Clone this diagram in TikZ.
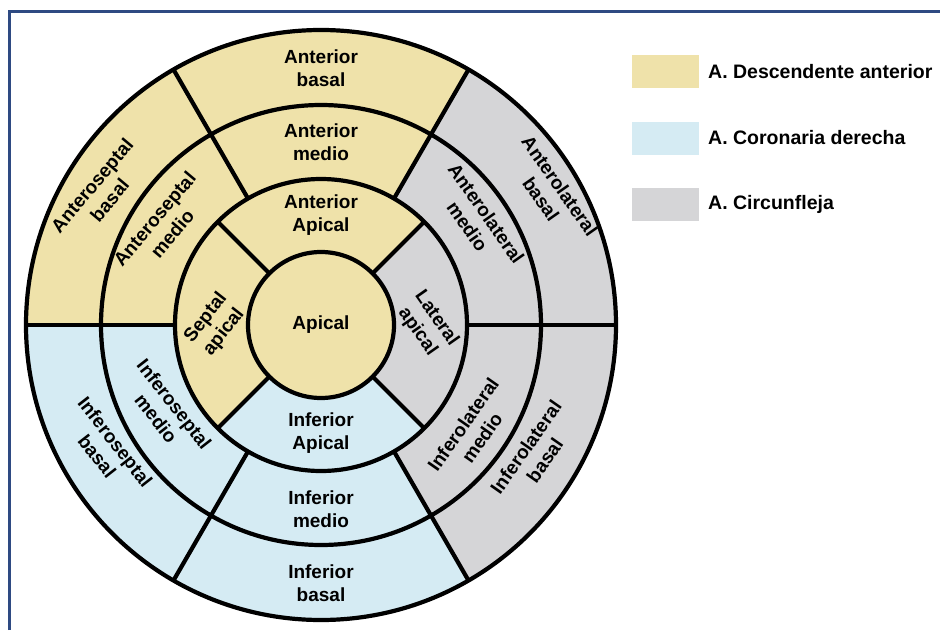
\documentclass[tikz,border=0pt]{standalone}
\usepackage{fontspec}
\setmainfont{Liberation Sans}
\definecolor{ladyellow}{HTML}{EFE2AA}
\definecolor{rcablue}{HTML}{D5EBF3}
\definecolor{cxgray}{HTML}{D5D5D7}
\definecolor{frameblue}{HTML}{2E4A82}
% annular sector: colour, start angle, end angle, inner radius, outer radius
\newcommand\ringpart[5]{%
  \fill[#1] (#2:#4) arc[start angle=#2,end angle=#3,radius=#4]
    -- (#3:#5) arc[start angle=#3,end angle=#2,radius=#5] -- cycle;}
\begin{document}
\begin{tikzpicture}[x=1pt,y=1pt,
  lbl/.style={font=\bfseries\fontsize{19}{23}\selectfont,align=center,inner sep=0pt,text=black},
  legtext/.style={font=\bfseries\fontsize{19.5}{23}\selectfont,anchor=west,inner sep=0pt,text=black},
  legbox/.style={minimum width=67pt,minimum height=33pt,inner sep=0pt,draw=none},
  wall/.style={line width=4.2pt,black}]
\useasboundingbox (-321,-305) rectangle (619,325);
\fill[white] (-321,-305) rectangle (619,325);

% frame
\draw[frameblue,line width=3pt] (-311,-305) -- (-311,314) -- (619,314);

% basal ring
\ringpart{cxgray}{0}{60}{220}{295}
\ringpart{ladyellow}{60}{120}{220}{295}
\ringpart{ladyellow}{120}{180}{220}{295}
\ringpart{rcablue}{180}{240}{220}{295}
\ringpart{rcablue}{240}{300}{220}{295}
\ringpart{cxgray}{300}{360}{220}{295}
% mid ring
\ringpart{cxgray}{0}{60}{146}{220}
\ringpart{ladyellow}{60}{120}{146}{220}
\ringpart{ladyellow}{120}{180}{146}{220}
\ringpart{rcablue}{180}{240}{146}{220}
\ringpart{rcablue}{240}{300}{146}{220}
\ringpart{cxgray}{300}{360}{146}{220}
% apical ring
\ringpart{ladyellow}{45}{135}{73}{146}
\ringpart{ladyellow}{135}{225}{73}{146}
\ringpart{rcablue}{225}{315}{73}{146}
\ringpart{cxgray}{-45}{45}{73}{146}
% apex
\fill[ladyellow] (0,0) circle[radius=73];

% segment walls
\foreach \r in {73,146,220,295} \draw[wall] (0,0) circle[radius=\r];
\foreach \a in {0,60,...,300} \draw[wall] (\a:146) -- (\a:295);
\foreach \a in {45,135,225,315} \draw[wall] (\a:73) -- (\a:146);

% labels
\node[lbl] (antbasal) at (90:257) {Anterior\\basal};
\node[lbl] (antmedio) at (90:183) {Anterior\\medio};
\node[lbl] (antapical) at (90:110) {Anterior\\Apical};
\node[lbl] (apex) at (0,0) {Apical};
\node[lbl,rotate=50] (asbasal) at (149:257) {Anteroseptal\\basal};
\node[lbl,rotate=50] (asmedio) at (148:186) {Anteroseptal\\medio};
\node[lbl,rotate=52] (septapical) at (180:106) {Septal\\apical};
\node[lbl] (infapical) at (270:108) {Inferior\\Apical};
\node[lbl] (infmedio) at (270:184) {Inferior\\medio};
\node[lbl] (infbasal) at (270:258) {Inferior\\basal};
\node[lbl,rotate=-52] (ismedio) at (209:178) {Inferoseptal\\medio};
\node[lbl,rotate=-52] (isbasal) at (210:248) {Inferoseptal\\basal};
\node[lbl,rotate=-55] (albasal) at (30:265) {Anterolateral\\basal};
\node[lbl,rotate=-55] (almedio) at (34:188) {Anterolateral\\medio};
\node[lbl,rotate=-55] (latapical) at (0:106) {Lateral\\apical};
\node[lbl,rotate=55] (ilmedio) at (-35:185) {Inferolateral\\medio};
\node[lbl,rotate=55] (ilbasal) at (-31:250) {Inferolateral\\basal};

% legend
\node[legbox,fill=ladyellow] (keylad) at (344.5,253.5) {};
\node[legbox,fill=rcablue] (keyrca) at (344.5,187) {};
\node[legbox,fill=cxgray] (keycx) at (344.5,120.5) {};
\node[legtext] (txtlad) at (387,253.5) {A. Descendente anterior};
\node[legtext] (txtrca) at (387,187) {A. Coronaria derecha};
\node[legtext] (txtcx) at (387,120.5) {A. Circunfleja};
\end{tikzpicture}
\end{document}
